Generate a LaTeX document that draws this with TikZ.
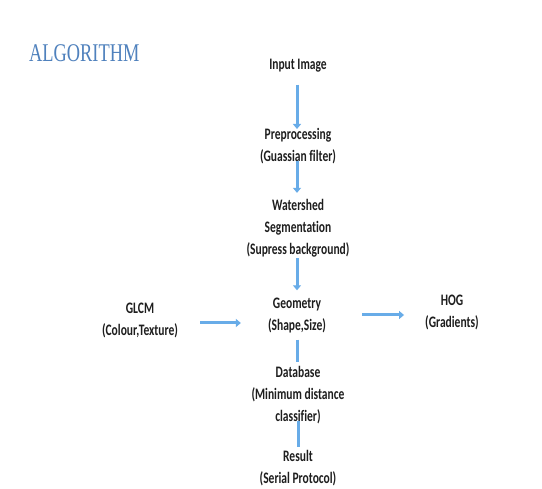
\documentclass[tikz,border=0pt]{standalone}
\usepackage{fontspec}
\usetikzlibrary{arrows.meta}
\newfontfamily\bodyfont[FakeStretch=0.72,Ligatures=NoCommon]{Carlito Bold}
\newfontfamily\titlefont[FakeStretch=0.72]{Liberation Serif}
\definecolor{titleblue}{RGB}{79,129,189}
\definecolor{arrowblue}{RGB}{104,172,232}
\definecolor{txt}{RGB}{30,30,30}
\tikzset{
  box/.style={inner sep=0pt, align=center, text=txt, font=\bodyfont\fontsize{16}{22}\selectfont},
  flow/.style={draw=arrowblue, line width=3pt, -{Triangle[length=5pt,width=8pt]}},
  link/.style={draw=arrowblue, line width=3pt},
}
\begin{document}
\begin{tikzpicture}[x=1pt,y=-1pt]
\useasboundingbox[fill=white] (0,0) rectangle (542,489);
\node[text=titleblue, font=\titlefont\fontsize{25.5}{25}\selectfont, anchor=west, inner sep=0pt] (title) at (29,53) {ALGORITHM};
\node[box] (inp) at (298,66) {Input Image};
\node[box] (pre) at (298,146) {Preprocessing\\(Guassian filter)};
\node[box] (wat) at (298,228) {Watershed\\Segmentation\\(Supress background)};
\node[box] (geo) at (297,316) {Geometry\\(Shape,Size)};
\node[box] (glcm) at (140,320) {GLCM\\(Colour,Texture)};
\node[box] (hog) at (452,312) {HOG\\(Gradients)};
\node[box] (db) at (298,395) {Database\\(Minimum distance\\classifier)};
\node[box] (res) at (298,468) {Result\\(Serial Protocol)};
\draw[flow, shorten <=12pt, shorten >=-1pt] ([xshift=-1pt]inp.south) -- ([xshift=-1pt]pre.north);
\draw[flow, shorten <=-3pt, shorten >=6pt] ([xshift=-1pt]pre.south) -- ([xshift=-1pt]wat.north);
\draw[flow, shorten <=1pt, shorten >=8pt] ([xshift=-1pt]wat.south) -- ([xshift=-1pt]wat.south |- geo.north);
\draw[link, shorten <=6pt, shorten >=4pt] ([xshift=-1pt]wat.south |- geo.south) -- ([xshift=-1pt]db.north);
\draw[link, shorten <=-3pt, shorten >=3pt] (db.south) -- (res.north);
\draw[flow, shorten <=22pt, shorten >=27pt] ([yshift=-3pt]glcm.east) -- ([yshift=-3pt]glcm.east -| geo.west);
\draw[flow, shorten <=36pt, shorten >=21pt] ([yshift=1pt]geo.east) -- ([yshift=1pt]geo.east -| hog.west);
\end{tikzpicture}
\end{document}
